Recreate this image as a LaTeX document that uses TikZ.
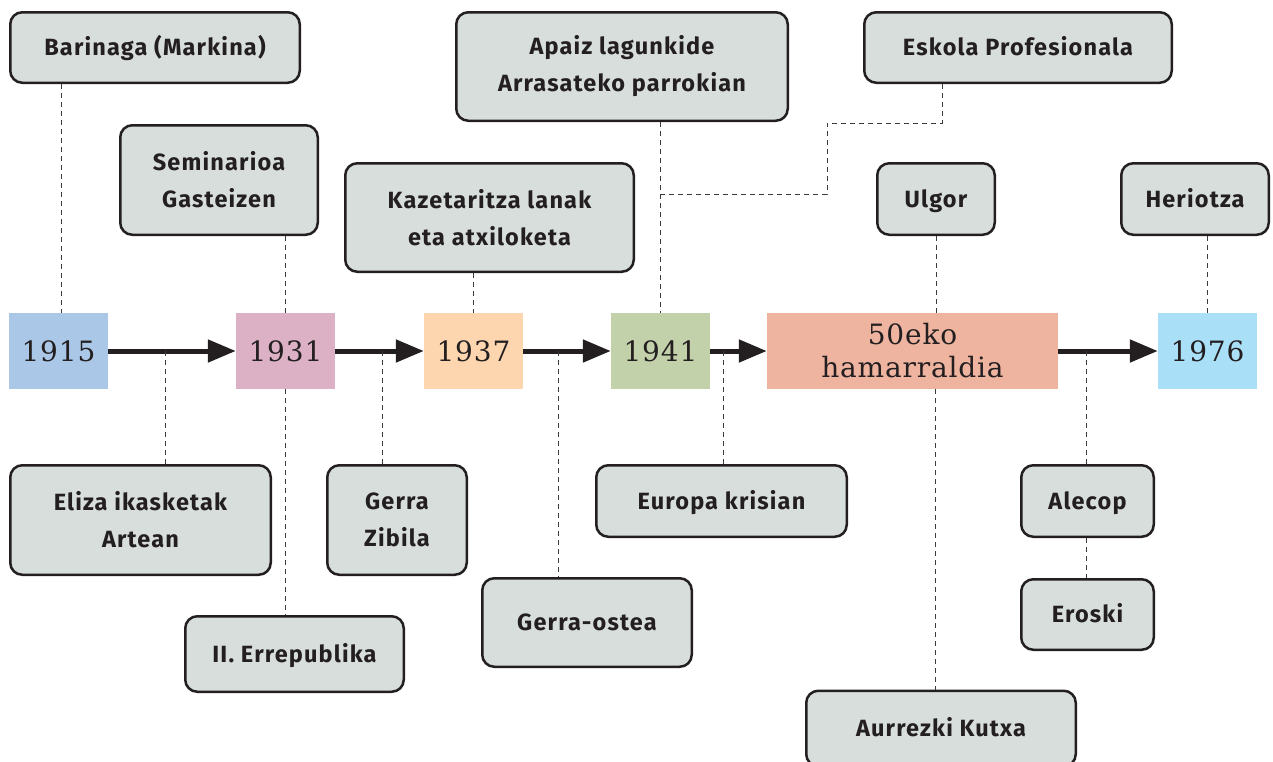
\documentclass[tikz,border=0pt]{standalone}
\usepackage{fontspec}
\setmainfont{Fira Sans}
\newfontfamily\evfont[LetterSpace=5]{Fira Sans}
\newfontfamily\yearfont[LetterSpace=3]{DejaVu Serif}
\usetikzlibrary{arrows.meta}
\definecolor{ink}{HTML}{231F20}
\definecolor{evfill}{HTML}{D8DEDB}
\definecolor{dashc}{HTML}{3A3A3A}
\definecolor{cA}{HTML}{ABC7E7}
\definecolor{cB}{HTML}{DDB1C5}
\definecolor{cC}{HTML}{FDD6AF}
\definecolor{cD}{HTML}{C3D1AB}
\definecolor{cE}{HTML}{EEB4A0}
\definecolor{cF}{HTML}{AADFF8}
\begin{document}
\begin{tikzpicture}[x=1pt,y=-1pt,
  ev/.style={draw=ink, line width=2.5pt, fill=evfill, rounded corners=12pt,
    font=\evfont\bfseries\fontsize{23.5}{37}\selectfont, align=center, inner sep=0pt, text=ink},
  evone/.style={ev, text height=16.2pt, text depth=0pt},
  yr/.style={minimum width=99pt, minimum height=76pt, inner sep=0pt,
    font=\yearfont\fontsize{28}{33}\selectfont, text=ink, align=center},
  yrone/.style={yr, text height=20.4pt, text depth=0pt},
  arr/.style={draw=ink, line width=5pt, -{Triangle[length=28pt,width=22pt]}},
  dsh/.style={draw=dashc, line width=1pt, dash pattern=on 5pt off 4pt}
]
\useasboundingbox (0,0) rectangle (1273,761);

% year boxes
\node[yrone, fill=cA] (y1915) at (58.5,351) {1915};
\node[yrone, fill=cB] (y1931) at (285.5,351) {1931};
\node[yrone, fill=cC] (y1937) at (473.5,351) {1937};
\node[yrone, fill=cD] (y1941) at (660.5,351) {1941};
\node[yr, fill=cE, minimum width=291pt] (y50) at (912.5,351) {50eko\\hamarraldia};
\node[yrone, fill=cF] (y1976) at (1207.5,351) {1976};

% arrows
\draw[arr] (y1915.east) -- (y1931.west);
\draw[arr] (y1931.east) -- (y1937.west);
\draw[arr] (y1937.east) -- (y1941.west);
\draw[arr] (y1941.east) -- (y50.west);
\draw[arr] (y50.east) -- (y1976.west);

% event boxes
\node[evone, minimum width=289.5pt, minimum height=70.5pt] (barinaga) at (155,47.5) {Barinaga (Markina)};
\node[ev, minimum width=197.5pt, minimum height=109.5pt] (semin) at (219,180) {Seminarioa\\Gasteizen};
\node[ev, minimum width=288.5pt, minimum height=108.5pt] (kaz) at (489.5,217.5) {Kazetaritza lanak\\eta atxiloketa};
\node[ev, minimum width=331.5pt, minimum height=108.5pt] (apaiz) at (622,66.5) {Apaiz lagunkide\\Arrasateko parrokian};
\node[evone, minimum width=307.5pt, minimum height=70.5pt] (eskola) at (1018,47.5) {Eskola Profesionala};
\node[evone, minimum width=117.5pt, minimum height=71.5pt] (ulgor) at (936,199) {Ulgor};
\node[evone, minimum width=147.5pt, minimum height=71.5pt] (heri) at (1195,199) {Heriotza};
\node[ev, minimum width=260.5pt, minimum height=109.5pt] (eliza) at (140.5,520) {Eliza ikasketak\\Artean};
\node[evone, minimum width=218.5pt, minimum height=75.5pt] (errep) at (294.5,654) {II. Errepublika};
\node[ev, minimum width=139.5pt, minimum height=109.5pt] (gerra) at (397,520) {Gerra\\Zibila};
\node[evone, minimum width=209.5pt, minimum height=88.5pt] (ostea) at (587,622.5) {Gerra-ostea};
\node[evone, minimum width=250.5pt, minimum height=71.5pt] (europa) at (721.5,501) {Europa krisian};
\node[evone, minimum width=132.5pt, minimum height=71.5pt] (alecop) at (1087.5,501) {Alecop};
\node[evone, minimum width=132.5pt, minimum height=70.5pt] (eroski) at (1087.5,614.5) {Eroski};
\node[evone, minimum width=269.5pt, minimum height=75.5pt] (aurrezki) at (941,728.5) {Aurrezki Kutxa};

% points on the arrows
\coordinate (aEliza) at (165,351);
\coordinate (aGerra) at (382,351);
\coordinate (aOstea) at (558,351);
\coordinate (aEuropa) at (723,351);
\coordinate (aAlecop) at (1086,351);
\coordinate (j1) at (942,123);
\coordinate (j2) at (827,194);
\coordinate (j3) at (660,194);

% dashed connectors above
\draw[dsh] (barinaga.south -| 61,0) -- (y1915.north -| 61,0);
\draw[dsh] (semin.south -| y1931.north) -- (y1931.north);
\draw[dsh] (kaz.south -| y1937.north) -- (y1937.north);
\draw[dsh] (apaiz.south -| y1941.north) -- (y1941.north);
\draw[dsh] (eskola.south -| j1) -- (j1) -| (j2) -- (j3);
\draw[dsh] (ulgor.south) -- (ulgor.south |- y50.north);
\draw[dsh] (heri.south -| y1976.north) -- (y1976.north);

% dashed connectors below
\draw[dsh] (aEliza) -- (aEliza |- eliza.north);
\draw[dsh] (y1931.south) -- (y1931.south |- errep.north);
\draw[dsh] (aGerra) -- (aGerra |- gerra.north);
\draw[dsh] (aOstea) -- (aOstea |- ostea.north);
\draw[dsh] (aEuropa) -- (aEuropa |- europa.north);
\draw[dsh] (y50.south -| 935,0) -- (aurrezki.north -| 935,0);
\draw[dsh] (aAlecop) -- (aAlecop |- alecop.north);
\draw[dsh] (alecop.south -| aAlecop) -- (eroski.north -| aAlecop);
\end{tikzpicture}
\end{document}
